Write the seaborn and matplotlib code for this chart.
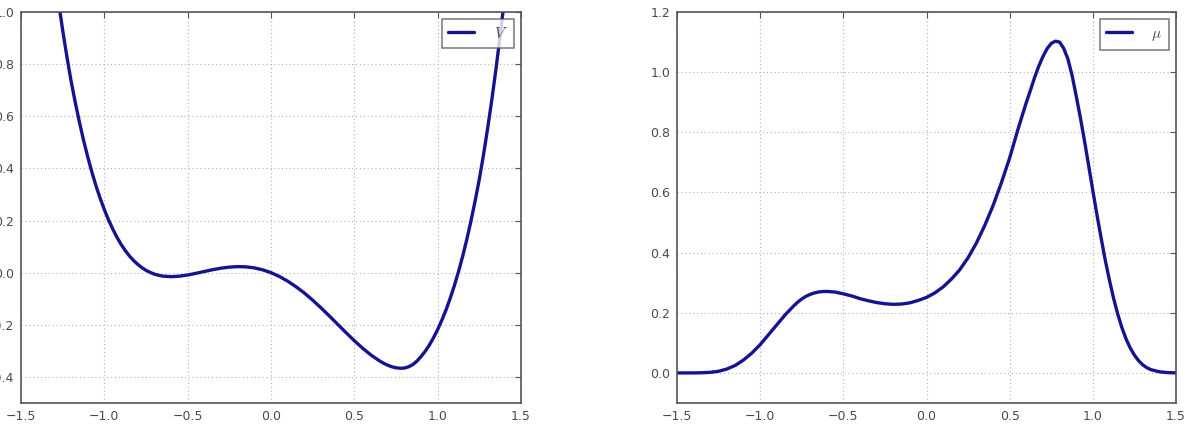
import matplotlib
matplotlib.use("Agg")
import matplotlib.pyplot as plt
import seaborn as sns
import pandas as pd

# ---- data ----
x_v = [-1.50, -1.45, -1.40, -1.35, -1.30, -1.275, -1.25, -1.225, -1.20, -1.175,
       -1.15, -1.125, -1.10, -1.075, -1.05, -1.025, -1.00, -0.975, -0.95, -0.925,
       -0.90, -0.875, -0.85, -0.825, -0.80, -0.775, -0.75, -0.725, -0.70, -0.675,
       -0.65, -0.60, -0.55, -0.50, -0.45, -0.40, -0.35, -0.30, -0.25, -0.20,
       -0.15, -0.10, -0.05, 0.00, 0.05, 0.10, 0.15, 0.20, 0.25, 0.30,
       0.35, 0.40, 0.45, 0.50, 0.55, 0.60, 0.65, 0.675, 0.70, 0.725,
       0.75, 0.775, 0.80, 0.825, 0.85, 0.875, 0.90, 0.925, 0.95, 0.975,
       1.00, 1.025, 1.05, 1.075, 1.10, 1.125, 1.15, 1.175, 1.20, 1.225,
       1.25, 1.275, 1.30, 1.325, 1.35, 1.375, 1.40, 1.45, 1.50]
v_vals = [2.42, 2.06, 1.72, 1.42, 1.16, 1.04, 0.93, 0.83, 0.737, 0.655,
          0.579, 0.509, 0.445, 0.3865, 0.333, 0.285, 0.242, 0.2026, 0.168, 0.1367,
          0.109, 0.0854, 0.0646, 0.047, 0.032, 0.0194, 0.009, 0.001, -0.0055, -0.010,
          -0.0132, -0.0154, -0.0135, -0.009, -0.0025, 0.0045, 0.0114, 0.0172, 0.0213, 0.0232,
          0.0223, 0.0183, 0.0109, 0.0, -0.0145, -0.0325, -0.054, -0.078, -0.1055, -0.135,
          -0.166, -0.198, -0.23, -0.261, -0.29, -0.316, -0.338, -0.3473, -0.355, -0.361,
          -0.365, -0.3667, -0.366, -0.3613, -0.353, -0.3398, -0.322, -0.3018, -0.278, -0.2498,
          -0.218, -0.1825, -0.143, -0.0987, -0.050, 0.0039, 0.063, 0.128, 0.199, 0.2757,
          0.359, 0.452, 0.554, 0.6637, 0.782, 0.9095, 1.046, 1.349, 1.694]

x_mu = [-1.50, -1.45, -1.40, -1.35, -1.30, -1.25, -1.20, -1.15, -1.10, -1.05,
        -1.00, -0.95, -0.90, -0.85, -0.80, -0.775, -0.75, -0.725, -0.70, -0.675,
        -0.65, -0.625, -0.60, -0.55, -0.50, -0.45, -0.40, -0.35, -0.30, -0.25,
        -0.20, -0.15, -0.10, -0.05, 0.00, 0.05, 0.10, 0.15, 0.20, 0.25,
        0.30, 0.35, 0.40, 0.45, 0.50, 0.55, 0.575, 0.60, 0.625, 0.65,
        0.675, 0.70, 0.725, 0.75, 0.775, 0.80, 0.825, 0.85, 0.875, 0.90,
        0.925, 0.95, 0.975, 1.00, 1.025, 1.05, 1.075, 1.10, 1.125, 1.15,
        1.175, 1.20, 1.225, 1.25, 1.275, 1.30, 1.325, 1.35, 1.40, 1.45, 1.50]
mu_vals = [0.0, 0.0, 0.0001, 0.0006, 0.002, 0.0055, 0.013, 0.025, 0.043, 0.066,
           0.094, 0.127, 0.160, 0.193, 0.222, 0.2349, 0.246, 0.2546, 0.261, 0.2658,
           0.269, 0.2705, 0.271, 0.269, 0.263, 0.256, 0.247, 0.240, 0.234, 0.230,
           0.228, 0.229, 0.233, 0.241, 0.251, 0.266, 0.286, 0.312, 0.343, 0.383,
           0.432, 0.490, 0.556, 0.632, 0.715, 0.810, 0.855, 0.899, 0.940, 0.9825,
           1.020, 1.052, 1.078, 1.0956, 1.103, 1.100, 1.079, 1.044, 0.990, 0.921,
           0.849, 0.771, 0.689, 0.606, 0.525, 0.448, 0.374, 0.308, 0.2475, 0.195,
           0.150, 0.1128, 0.0828, 0.0591, 0.0407, 0.0269, 0.0173, 0.0107, 0.0037, 0.0011, 0.0003]

x_ticks = [-1.5, -1.0, -0.5, 0.0, 0.5, 1.0, 1.5]
v_yticks = [-0.4, -0.2, 0.0, 0.2, 0.4, 0.6, 0.8, 1.0]
mu_yticks = [0.0, 0.2, 0.4, 0.6, 0.8, 1.0, 1.2]

df_v = pd.DataFrame({"x": x_v, "V": v_vals})
df_mu = pd.DataFrame({"x": x_mu, "mu": mu_vals})

sns.set_style("white")
plt.rcParams["font.family"] = ["DejaVu Sans"]
plt.rcParams["mathtext.fontset"] = "cm"

LINE = "#14148f"
TXT = "#4a4a4a"

fig = plt.figure(figsize=(11.86, 4.29), dpi=100)
W, H = 1186, 429
ax1 = fig.add_axes([21 / W, 1 - 403 / H, (521 - 21) / W, (403 - 12) / H])
ax2 = fig.add_axes([677 / W, 1 - 403 / H, (1176 - 677) / W, (403 - 12) / H])

sns.lineplot(data=df_v, x="x", y="V", ax=ax1, color=LINE, linewidth=2.4,
             label="$V$", sort=False, solid_joinstyle="round", solid_capstyle="round")
sns.lineplot(data=df_mu, x="x", y="mu", ax=ax2, color=LINE, linewidth=2.4,
             label=r"$\mu$", sort=False, solid_joinstyle="round", solid_capstyle="round")

for ax, yt, ylim in [(ax1, v_yticks, (-0.5, 1.0)), (ax2, mu_yticks, (-0.1, 1.2))]:
    ax.set_xlim(-1.5, 1.5)
    ax.set_ylim(*ylim)
    ax.set_xticks(x_ticks)
    ax.set_yticks(yt)
    ax.set_xticklabels([f"{t:.1f}".replace("-", "\u2212") for t in x_ticks])
    ax.set_yticklabels([f"{t:.1f}".replace("-", "\u2212") for t in yt])
    ax.set_xlabel("")
    ax.set_ylabel("")
    ax.grid(True, linestyle=(0, (1, 2.5)), color="#b0b0b0", linewidth=0.8)
    ax.tick_params(direction="in", length=4, width=0.8, top=True, right=True,
                   labelsize=9, colors="#555555", labelcolor=TXT, pad=5)
    for s in ax.spines.values():
        s.set_color("#555555")
        s.set_linewidth(1.2)
    leg = ax.legend(loc="upper right", fancybox=False, fontsize=11,
                    handlelength=1.65, handletextpad=1.3, borderpad=0.45,
                    borderaxespad=0.45, labelcolor=TXT)
    leg.get_frame().set_edgecolor("#555555")
    leg.get_frame().set_linewidth(1.1)

fig.savefig("out.png", dpi=100)
